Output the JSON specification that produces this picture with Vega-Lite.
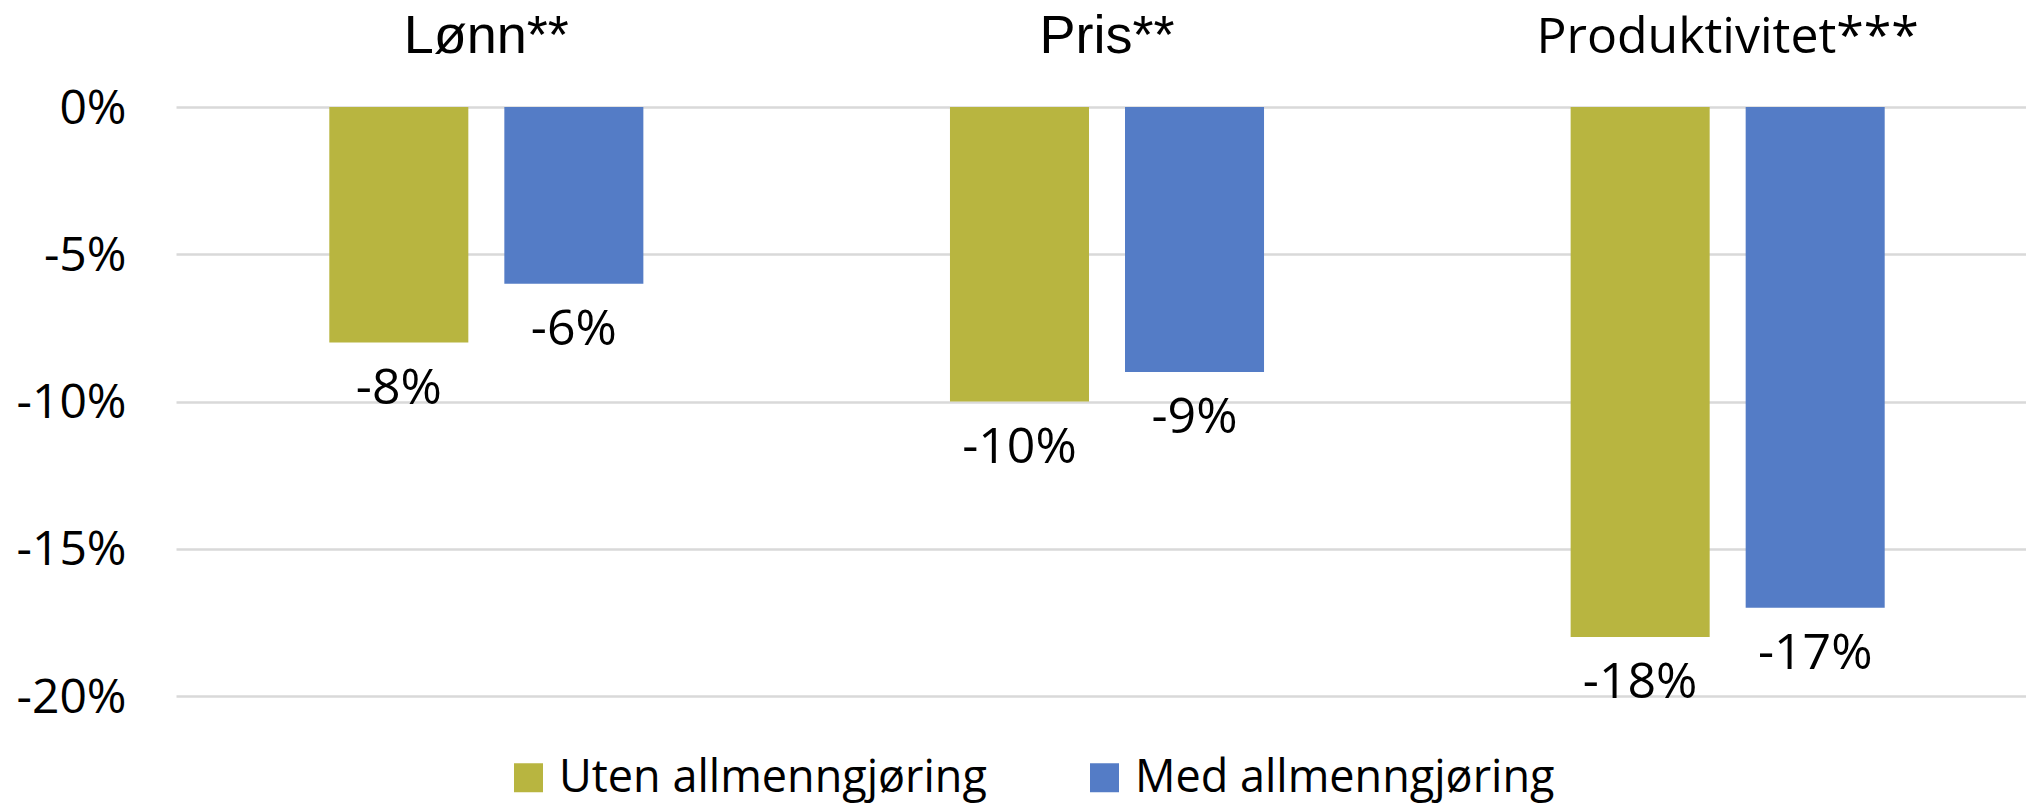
{
  "$schema": "https://vega.github.io/schema/vega-lite/v6.json",
  "width": 1850,
  "height": 589,
  "autosize": {"type": "none"},
  "padding": {"left": 176, "top": 107, "right": 0, "bottom": 113},
  "background": "white",
  "config": {
    "view": {"stroke": null},
    "locale": {"number": {"decimal": ",", "thousands": " ", "grouping": [3], "currency": ["", " kr"], "minus": "-"}}
  },
  "data": {
    "values": [
      {"kategori": "Lønn**", "serie": "Uten allmenngjøring", "verdi": -0.08},
      {"kategori": "Lønn**", "serie": "Med allmenngjøring", "verdi": -0.06},
      {"kategori": "Pris**", "serie": "Uten allmenngjøring", "verdi": -0.10},
      {"kategori": "Pris**", "serie": "Med allmenngjøring", "verdi": -0.09},
      {"kategori": "Produktivitet***", "serie": "Uten allmenngjøring", "verdi": -0.18},
      {"kategori": "Produktivitet***", "serie": "Med allmenngjøring", "verdi": -0.17}
    ]
  },
  "encoding": {
    "x": {
      "field": "kategori",
      "type": "nominal",
      "sort": ["Lønn**", "Pris**", "Produktivitet***"],
      "scale": {"range": [0, 1862], "paddingInner": 0.494, "paddingOuter": 0.247},
      "axis": {
        "orient": "top",
        "title": null,
        "ticks": false,
        "domain": false,
        "grid": false,
        "labelAngle": 0,
        "labelPadding": 55,
        "labelBaseline": "alphabetic",
        "labelFontSize": {"condition": {"test": "datum.value === 'Produktivitet***'", "value": 50}, "value": 54},
        "labelFont": {"condition": {"test": "datum.value === 'Produktivitet***'", "value": "Open Sans"}, "value": "Liberation Sans"},
        "labelColor": "black",
        "labelLimit": 1000
      }
    },
    "xOffset": {
      "field": "serie",
      "type": "nominal",
      "sort": ["Uten allmenngjøring", "Med allmenngjøring"],
      "scale": {"paddingInner": 0.2057, "paddingOuter": 0}
    },
    "y": {
      "field": "verdi",
      "type": "quantitative",
      "scale": {"domain": [-0.2, 0], "nice": false},
      "axis": {
        "title": null,
        "ticks": false,
        "domain": false,
        "grid": true,
        "gridColor": "#d9d9d9",
        "gridWidth": 2.5,
        "values": [0, -0.05, -0.1, -0.15, -0.2],
        "format": ".0%",
        "labelFont": "Open Sans",
        "labelFontSize": 48,
        "labelColor": "black",
        "labelPadding": 50,
        "labelBaseline": "alphabetic",
        "labelOffset": 16
      }
    }
  },
  "layer": [
    {
      "mark": {"type": "bar"},
      "encoding": {
        "color": {
          "field": "serie",
          "type": "nominal",
          "scale": {"domain": ["Uten allmenngjøring", "Med allmenngjøring"], "range": ["#B8B540", "#547CC6"]},
          "legend": {
            "orient": "none",
            "legendX": 330,
            "legendY": 648,
            "direction": "horizontal",
            "title": null,
            "symbolType": "square",
            "symbolSize": 841,
            "symbolStrokeWidth": 0,
            "symbolOpacity": 1,
            "labelFont": "Open Sans",
            "labelFontSize": 45,
            "labelColor": "black",
            "labelOffset": 8,
            "labelLimit": 1000,
            "columnPadding": 95,
            "padding": 0
          }
        }
      }
    },
    {
      "mark": {"type": "text", "baseline": "alphabetic", "align": "center", "dy": 61, "font": "Open Sans", "fontSize": 50, "color": "black"},
      "encoding": {
        "text": {"field": "verdi", "type": "quantitative", "format": ".0%"}
      }
    }
  ]
}
